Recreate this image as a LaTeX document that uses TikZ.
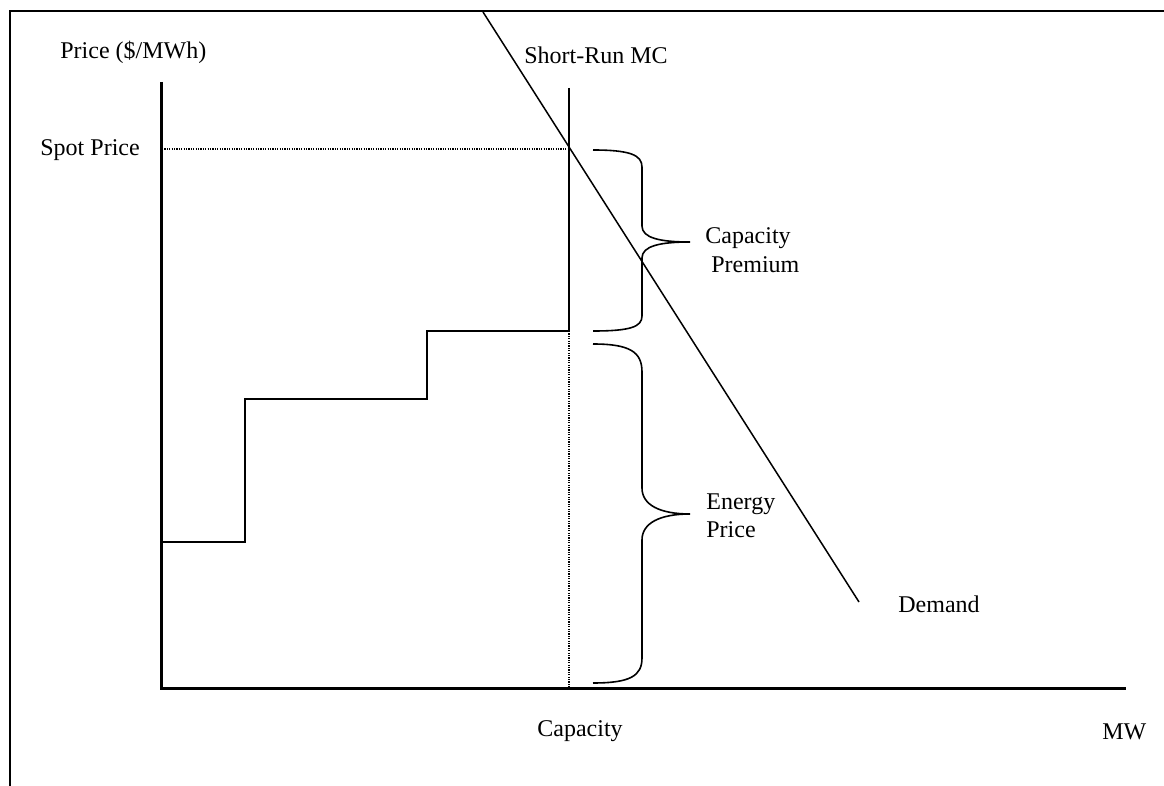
\documentclass[tikz,border=0pt]{standalone}
\usepackage{fontspec}
\setmainfont{Liberation Serif}
\begin{document}
\begin{tikzpicture}[x=0.5pt,y=-0.5pt,
  lbl/.style={inner sep=0pt,anchor=base west,font=\fontsize{12}{14}\selectfont},
  axisline/.style={line width=1.5pt},
  thinline/.style={line width=0.75pt},
  framel/.style={line width=0.9pt},
  dotline/.style={line width=0.7pt,dash pattern=on 0.6pt off 0.6pt},
  bracel/.style={line width=0.8pt}]
\useasboundingbox (0,0) rectangle (1164,786);
% frame (top and left edges)
\draw[framel] (10,786) -- (10,11) -- (1164,11);
% axes
\coordinate (ytop) at (161,82);
\coordinate (orig) at (161,689);
\coordinate (xend) at (1126,689);
\draw[axisline] (ytop) -- (orig) -- (xend);
% spot price dotted
\coordinate (spotL) at (162,149);
\coordinate (spotR) at (569,149);
\draw[dotline] (spotL) -- (spotR);
% capacity vertical
\coordinate (capTop) at (569,88);
\coordinate (capStep) at (569,331);
\coordinate (capBot) at (569,689);
\draw[thinline] (capTop) -- (capStep);
\draw[dotline] (capStep) -- (capBot);
% supply staircase
\draw[thinline] (161,542) -- (245,542) -- (245,399) -- (427,399) -- (427,331) -- (capStep);
% demand line
\coordinate (dTop) at (483,12);
\coordinate (dBot) at (859,602);
\draw[thinline] (dTop) -- (dBot);
% capacity premium brace
\draw[bracel] (593,150) .. controls (630,150) and (642,155) .. (642,167)
  -- (642,226) .. controls (642,238) and (660,242) .. (690,242)
  .. controls (660,242) and (642,246) .. (642,258)
  -- (642,316) .. controls (642,327) and (630,331) .. (593,331);
% energy price brace
\draw[bracel] (593,344) .. controls (630,344) and (642,352) .. (642,372)
  -- (642,488) .. controls (642,505) and (660,514) .. (690,514)
  .. controls (660,514) and (642,523) .. (642,540)
  -- (642,658) .. controls (642,676) and (630,683) .. (593,683);
% labels
\node[lbl] (lprice) at (60,59) {Price (\$/MWh)};
\node[lbl] (lspot) at (40,156) {Spot Price};
\node[lbl] (lsrmc) at (524,64) {Short-Run MC};
\node[lbl] (lcap1) at (705,244) {Capacity};
\node[lbl] (lcap2) at (711,273) {Premium};
\node[lbl] (len1) at (706,510) {Energy};
\node[lbl] (len2) at (706,538) {Price};
\node[lbl] (ldem) at (898,613) {Demand};
\node[lbl] (lcapx) at (537,737) {Capacity};
\node[lbl] (lmw) at (1102,740) {MW};
\end{tikzpicture}
\end{document}
